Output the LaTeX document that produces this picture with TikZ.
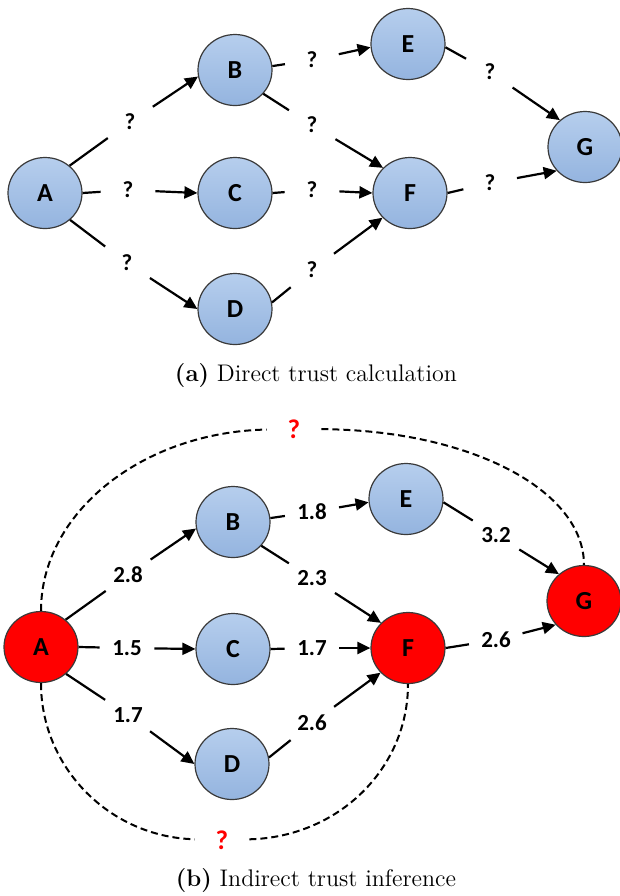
\documentclass[tikz,border=0pt]{standalone}
\usepackage{fontspec}
\newfontfamily\peerfont{Carlito}
\usetikzlibrary{arrows.meta,shapes.geometric}
\definecolor{peertop}{HTML}{B6CEED}
\definecolor{peerbottom}{HTML}{94B4DF}
\definecolor{peerrim}{HTML}{3A3A3A}
\definecolor{trustred}{HTML}{FF0000}
\tikzset{
  peer/.style={ellipse, draw=peerrim, line width=0.6pt, minimum width=37pt,
    minimum height=35.5pt, inner sep=0pt, font=\peerfont\bfseries\fontsize{13}{15}\selectfont},
  bluepeer/.style={peer, top color=peertop, bottom color=peerbottom},
  redpeer/.style={peer, fill=trustred},
  weight/.style={circle, inner sep=0pt, minimum size=27pt,
    font=\peerfont\bfseries\fontsize{11.5}{13}\selectfont},
  query/.style={weight, text=trustred, font=\peerfont\bfseries\fontsize{13.5}{15}\selectfont},
  stub/.style={line width=1.1pt},
  trustarrow/.style={-{Triangle[length=6.5pt,width=6pt]}, line width=1.1pt},
  inferred/.style={dash pattern=on 3.5pt off 2pt, line width=1pt},
  subcaption/.style={font=\fontsize{12}{14}\selectfont}
}

\begin{document}
\begin{tikzpicture}[x=0.5pt, y=-0.5pt]
  \useasboundingbox (0,0) rectangle (620,896);

  % (a) direct trust
  \node[bluepeer] (A1) at (45,193) {A};
  \node[bluepeer] (B1) at (235,70) {B};
  \node[bluepeer] (C1) at (235,193) {C};
  \node[bluepeer] (D1) at (235,309) {D};
  \node[bluepeer] (E1) at (408,44) {E};
  \node[bluepeer] (F1) at (410,193) {F};
  \node[bluepeer] (G1) at (585,147) {G};

  \node[weight] (qAB1) at (130,122) {?};
  \node[weight] (qAC1) at (128,190) {?};
  \node[weight] (qAD1) at (127,263) {?};
  \node[weight] (qBE1) at (312,60) {?};
  \node[weight] (qBF1) at (312,125) {?};
  \node[weight] (qCF1) at (312,190) {?};
  \node[weight] (qDF1) at (312,270) {?};
  \node[weight] (qEG1) at (490,72) {?};
  \node[weight] (qFG1) at (490,183) {?};

  \draw[stub] (A1.48) -- (qAB1);  \draw[trustarrow] (qAB1) -- (B1.190);
  \draw[stub] (A1.0) -- (qAC1);   \draw[trustarrow] (qAC1) -- (C1.180);
  \draw[stub] (A1.-47) -- (qAD1); \draw[trustarrow] (qAD1) -- (D1.180);
  \draw[stub] (B1.6) -- (qBE1);   \draw[trustarrow] (qBE1) -- (E1.185);
  \draw[stub] (B1.-40) -- (qBF1); \draw[trustarrow] (qBF1) -- (F1.137);
  \draw[stub] (C1.0) -- (qCF1);   \draw[trustarrow] (qCF1) -- (F1.180);
  \draw[stub] (D1.10) -- (qDF1);  \draw[trustarrow] (qDF1) -- (F1.222);
  \draw[stub] (E1.-5) -- (qEG1);  \draw[trustarrow] (qEG1) -- (G1.133);
  \draw[stub] (F1.0) -- (qFG1);   \draw[trustarrow] (qFG1) -- (G1.220);

  \node[subcaption] (capA) at (316,376) {\textbf{(a)} Direct trust calculation};

  % (b) indirect trust
  \node[redpeer] (A2) at (41,647) {A};
  \node[bluepeer] (B2) at (233,522) {B};
  \node[bluepeer] (C2) at (233,649) {C};
  \node[bluepeer] (D2) at (232,764) {D};
  \node[bluepeer] (E2) at (406,499) {E};
  \node[redpeer] (F2) at (408,648) {F};
  \node[redpeer] (G2) at (584,601) {G};

  \node[weight] (wAB2) at (128,575) {2.8};
  \node[weight] (wAC2) at (127,648) {1.5};
  \node[weight] (wAD2) at (128,715) {1.7};
  \node[weight] (wBE2) at (312,512) {1.8};
  \node[weight] (wBF2) at (312,578) {2.3};
  \node[weight] (wCF2) at (312,648) {1.7};
  \node[weight] (wDF2) at (312,723) {2.6};
  \node[weight] (wEG2) at (496,535) {3.2};
  \node[weight] (wFG2) at (496,640) {2.6};

  \draw[stub] (A2.48) -- (wAB2);  \draw[trustarrow] (wAB2) -- (B2.190);
  \draw[stub] (A2.0) -- (wAC2);   \draw[trustarrow] (wAC2) -- (C2.180);
  \draw[stub] (A2.-47) -- (wAD2); \draw[trustarrow] (wAD2) -- (D2.180);
  \draw[stub] (B2.6) -- (wBE2);   \draw[trustarrow] (wBE2) -- (E2.185);
  \draw[stub] (B2.-40) -- (wBF2); \draw[trustarrow] (wBF2) -- (F2.137);
  \draw[stub] (C2.0) -- (wCF2);   \draw[trustarrow] (wCF2) -- (F2.180);
  \draw[stub] (D2.10) -- (wDF2);  \draw[trustarrow] (wDF2) -- (F2.222);
  \draw[stub] (E2.-5) -- (wEG2);  \draw[trustarrow] (wEG2) -- (G2.133);
  \draw[stub] (F2.0) -- (wFG2);   \draw[trustarrow] (wFG2) -- (G2.220);

  % inferred trust A->G and A->F
  \node[query] (qAG2) at (294,429) {?};
  \node[query] (qAF2) at (222,840) {?};
  \draw[inferred] (A2.north) .. controls (41,512) and (143,432) .. (qAG2);
  \draw[inferred] (qAG2) .. controls (470,430) and (584,490) .. (G2.north);
  \draw[inferred] (A2.south) .. controls (41,768) and (110,837) .. (qAF2);
  \draw[inferred] (qAF2) .. controls (339,837) and (408,768) .. (F2.south);

  \node[subcaption] (capB) at (316,880) {\textbf{(b)} Indirect trust inference};
\end{tikzpicture}
\end{document}
